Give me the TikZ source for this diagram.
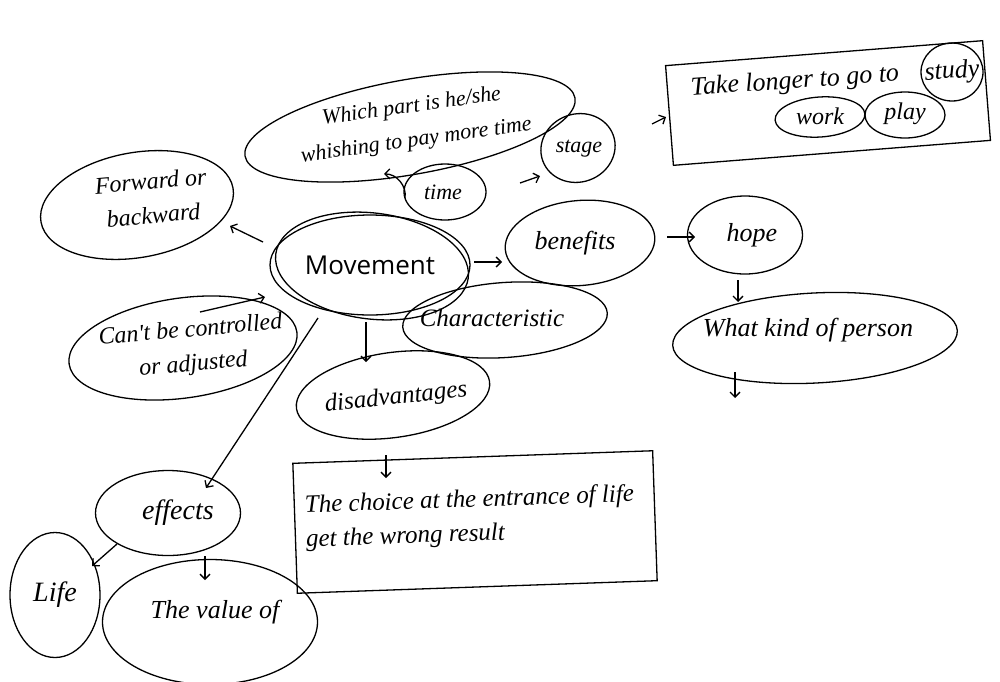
\documentclass[tikz,border=0pt]{standalone}
\usepackage{fontspec}
\setmainfont{Open Sans}
\newfontfamily\hand{Liberation Serif}
\usetikzlibrary{shapes.geometric,arrows.meta,calc}
\begin{document}
\begin{tikzpicture}[x=1pt,y=-1pt,line width=1.3pt,
  bub/.style={ellipse,draw,inner sep=0pt},
  hw/.style={font={\hand\itshape\fontsize{#1}{34}\selectfont},align=center,inner sep=0pt},
  hw/.default=24,
  arr/.style={-{Straight Barb[length=5pt,width=10pt]},line width=1.3pt},
  boxq/.style={draw,rectangle,inner sep=0pt}]
\useasboundingbox (0,0) rectangle (1000,681);
% central
\node[bub,minimum width=200pt,minimum height=100pt] (mov) at (370,265) {};
\node[bub,minimum width=194pt,minimum height=106pt,rotate=-7] (movb) at (372,266) {};
\node[font=\fontsize{26}{30}\selectfont] (movt) at (mov) {Movement};
% which part
\node[bub,minimum width=335pt,minimum height=95pt,rotate=10] (which) at (410,127) {};
\node[hw=22,rotate=8] (whicht) at (414,124) {Which part is he/she\\whishing to pay more time};
% time, stage
\node[bub,minimum width=82pt,minimum height=56pt] (time) at (445,192) {};
\node[hw=22] (timet) at (443,192) {time};
\node[bub,minimum width=75pt,minimum height=68pt,rotate=20] (stage) at (578,148) {};
\node[hw=22] (staget) at (579,149) {stage};
% box 1
\node[boxq,minimum width=318pt,minimum height=100pt,rotate=4.5] (box1) at (828,103) {};
\node[hw=26,rotate=4] (tlt) at (795,82) {Take longer to go to};
\node[bub,minimum width=62pt,minimum height=58pt] (study) at (952,72) {};
\node[hw=26,rotate=4] (studyt) at (952,72) {study};
\node[bub,minimum width=90pt,minimum height=40pt,rotate=4] (work) at (820,117) {};
\node[hw=24] (workt) at (820,116) {work};
\node[bub,minimum width=80pt,minimum height=46pt] (play) at (905,115) {};
\node[hw=24] (playt) at (905,114) {play};
% right side
\node[bub,minimum width=150pt,minimum height=85pt,rotate=5] (ben) at (580,243) {};
\node[hw=26] (bent) at (575,243) {benefits};
\node[bub,minimum width=115pt,minimum height=78pt] (hope) at (745,235) {};
\node[hw=26] (hopet) at (752,235) {hope};
\node[bub,minimum width=285pt,minimum height=90pt,rotate=3] (wkop) at (815,338) {};
\node[hw=26] (wkopt) at (808,330) {What kind of person};
\coordinate (wend) at (735,398);
\node[bub,minimum width=205pt,minimum height=75pt,rotate=4] (char) at (505,320) {};
\node[hw=25] (chart) at (492,318) {Characteristic};
% left side
\node[bub,minimum width=195pt,minimum height=105pt,rotate=10] (fwd) at (137,205) {};
\node[hw=24,rotate=5] (fwdt) at (152,198) {Forward or\\backward};
\node[bub,minimum width=230pt,minimum height=100pt,rotate=8] (cant) at (183,348) {};
\node[hw=24,rotate=5] (cantt) at (192,348) {Can't be controlled\\or adjusted};
\node[bub,minimum width=195pt,minimum height=85pt,rotate=8] (dis) at (393,395) {};
\node[hw=25,rotate=6] (dist) at (396,398) {disadvantages};
% box 2
\node[boxq,minimum width=360pt,minimum height=130pt,rotate=2] (box2) at (475,522) {};
\node[hw=25,rotate=2,align=left] (box2t) at (470,518) {The choice at the entrance of life\\get the wrong result};
% effects
\node[bub,minimum width=145pt,minimum height=85pt] (eff) at (168,513) {};
\node[hw=28] (efft) at (178,513) {effects};
\node[bub,minimum width=90pt,minimum height=125pt] (life) at (55,595) {};
\node[hw=28] (lifet) at (55,595) {Life};
\node[bub,minimum width=215pt,minimum height=125pt] (val) at (210,622) {};
\node[hw=26] (valt) at (215,612) {The value of};
% connectors
\draw[arr] ([shift={(-40,6)}]time.center) to[bend right=50] ([shift={(-26,47)}]which.center);
\draw[arr] ([shift={(75,-9)}]time.center) -- ([shift={(-38,28)}]stage.center);
\draw[arr] ([shift={(74,-24)}]stage.center) -- ([shift={(-162,14)}]box1.center);
\draw[arr] ([shift={(-107,-23)}]mov.center) -- ([shift={(93,21)}]fwd.center);
\draw[arr] ([shift={(17,-36)}]cant.center) -- ([shift={(-105,32)}]mov.center);
\draw[arr] ([shift={(-4,57)}]mov.center) -- ([shift={(-27,-33)}]dis.center);
\draw[arr] ([shift={(-52,53)}]mov.center) -- ([shift={(38,-25)}]eff.center);
\draw[arr] ([shift={(104,-3)}]mov.center) -- ([shift={(-78,19)}]ben.center);
\draw[arr] ([shift={(87,-6)}]ben.center) -- ([shift={(-50,2)}]hope.center);
\draw[arr] ([shift={(-7,45)}]hope.center) -- ([shift={(-77,-36)}]wkop.center);
\draw[arr] ([shift={(-80,34)}]wkop.center) -- (wend);
\draw[arr] ([shift={(-7,60)}]dis.center) -- ([shift={(-89,-44)}]box2.center);
\draw[arr] ([shift={(-51,31)}]eff.center) -- ([shift={(37,-29)}]life.center);
\draw[arr] ([shift={(37,43)}]eff.center) -- ([shift={(-5,-42)}]val.center);
\end{tikzpicture}
\end{document}
